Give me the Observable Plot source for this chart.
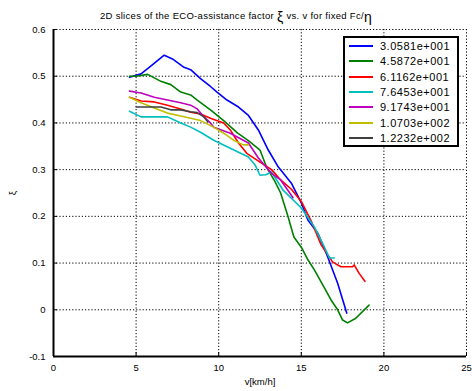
<!DOCTYPE html>
<html>
<head>
<meta charset="utf-8">
<script src="https://cdn.jsdelivr.net/npm/d3@7"></script>
<script src="https://cdn.jsdelivr.net/npm/@observablehq/plot@0.6"></script>
<style>
  html, body { margin: 0; padding: 0; background: #fff; }
  #wrap { position: relative; width: 472px; height: 391px; font-family: "Liberation Sans", Arial, sans-serif; }
  #title { position: absolute; left: 0; width: 472px; top: 6px; text-align: center; font-size: 9.5px; letter-spacing: 0.3px; white-space: nowrap; }
  #title .big { font-size: 14px; position: relative; top: 3px; }
  #legend { position: absolute; left: 343px; top: 36px; width: 112px; height: 107px; border: 2px solid #000; background: #fff; }
  .row { position: absolute; left: 0; height: 14px; font-size: 11px; letter-spacing: 0.5px; line-height: 14px; }
  .row .sw { position: absolute; left: 4px; top: 6px; width: 24px; height: 0; border-top: 2px solid; }
  .row .lb { position: absolute; left: 35px; top: 0; white-space: nowrap; }
</style>
</head>
<body>
<div id="wrap">
  <div id="chart"></div>
  <div id="title">2D slices of the ECO-assistance factor <span class="big">ξ</span> vs. v for fixed Fc/<span class="big">η</span></div>
  <div id="legend"></div>
</div>
<script>
// Series labels and colours
const seriesLabels = ["3.0581e+001", "4.5872e+001", "6.1162e+001", "7.6453e+001", "9.1743e+001", "1.0703e+002", "1.2232e+002"];
const seriesColors = ["#0000ff", "#008000", "#ff0000", "#00bfbf", "#bf00bf", "#bfbf00", "#404040"];

// Tick values
const xTicks = [0, 5, 10, 15, 20, 25];
const yTicks = [-0.1, 0, 0.1, 0.2, 0.3, 0.4, 0.5, 0.6];

// Series data (v in km/h, xi)
const v1 = [4.6, 5.3, 6.0, 6.7, 7.2, 7.9, 8.3, 8.9, 9.5, 9.9, 10.5, 11.2, 11.8, 12.4, 13.0, 13.6, 14.4, 15.0, 15.4, 16.0, 16.6, 17.2, 17.75];
const xi1 = [0.498, 0.505, 0.525, 0.545, 0.537, 0.519, 0.514, 0.495, 0.478, 0.466, 0.449, 0.434, 0.416, 0.385, 0.342, 0.306, 0.271, 0.229, 0.192, 0.164, 0.113, 0.057, -0.007];

const v2 = [4.6, 5.0, 5.7, 6.5, 7.1, 7.7, 8.3, 8.7, 9.5, 10.3, 11.15, 11.8, 12.5, 12.9, 13.4, 13.75, 14.2, 14.55, 15.0, 15.4, 15.8, 16.4, 16.8, 17.2, 17.5, 17.8, 18.3, 19.1];
const xi2 = [0.5, 0.5, 0.504, 0.489, 0.482, 0.466, 0.46, 0.449, 0.428, 0.405, 0.378, 0.362, 0.342, 0.305, 0.275, 0.25, 0.199, 0.156, 0.134, 0.107, 0.085, 0.047, 0.021, 0.0, -0.022, -0.028, -0.018, 0.01];

const v3 = [4.6, 5.3, 6.1, 6.9, 7.7, 8.3, 8.9, 9.5, 10.3, 10.7, 11.2, 11.7, 12.5, 13.2, 13.75, 14.4, 15.0, 15.6, 16.2, 16.9, 17.4, 18.1, 18.2, 18.5, 18.85];
const xi3 = [0.455, 0.447, 0.445, 0.438, 0.430, 0.423, 0.419, 0.41, 0.4, 0.385, 0.357, 0.335, 0.316, 0.3, 0.278, 0.258, 0.232, 0.19, 0.139, 0.102, 0.092, 0.092, 0.096, 0.078, 0.061];

const v4 = [4.6, 5.3, 6.5, 6.9, 7.7, 8.3, 8.9, 9.7, 10.7, 11.8, 12.2, 12.5, 12.85, 13.2, 13.9, 15.0, 15.8, 16.4, 16.7, 17.0];
const xi4 = [0.425, 0.413, 0.413, 0.413, 0.4, 0.391, 0.38, 0.363, 0.346, 0.327, 0.31, 0.288, 0.289, 0.295, 0.256, 0.218, 0.177, 0.134, 0.111, 0.111];

const v5 = [4.6, 5.3, 6.1, 6.9, 7.7, 8.3, 8.7, 9.1, 9.5, 9.7, 10.7, 11.8, 12.4, 13.2, 13.75, 14.5];
const xi5 = [0.468, 0.464, 0.455, 0.449, 0.443, 0.438, 0.43, 0.413, 0.4, 0.391, 0.378, 0.357, 0.325, 0.292, 0.278, 0.24];

const v6 = [4.6, 5.3, 6.1, 6.9, 7.7, 8.3, 8.9, 9.7, 10.3, 10.9, 11.5, 11.8];
const xi6 = [0.455, 0.443, 0.432, 0.421, 0.415, 0.41, 0.405, 0.391, 0.378, 0.363, 0.353, 0.353];

const v7 = [5.0, 6.5, 7.1, 7.7, 8.3, 8.7, 9.1, 9.35];
const xi7 = [0.434, 0.434, 0.428, 0.428, 0.424, 0.422, 0.413, 0.402];

const vs = [v1, v2, v3, v4, v5, v6, v7];
const xis = [xi1, xi2, xi3, xi4, xi5, xi6, xi7];
const data = [];
vs.forEach((vv, i) => vv.forEach((v, j) => data.push({series: seriesLabels[i], v, xi: xis[i][j]})));

const fmt = d => String(+d.toFixed(1));

const chart = Plot.plot({
  width: 472,
  height: 391,
  marginLeft: 53,
  marginRight: 6,
  marginTop: 29,
  marginBottom: 35,
  style: {fontFamily: "Liberation Sans, Arial, sans-serif", fontSize: "9.5px", background: "white", color: "black", overflow: "visible"},
  x: {domain: [0, 25]},
  y: {domain: [-0.1, 0.6]},
  color: {domain: seriesLabels, range: seriesColors},
  marks: [
    Plot.gridX(xTicks, {stroke: "black", strokeOpacity: 1, strokeDasharray: "1.2,2"}),
    Plot.gridY(yTicks, {stroke: "black", strokeOpacity: 1, strokeDasharray: "1.2,2"}),
    Plot.axisX(xTicks, {tickSize: -4, tickPadding: 12, tickFormat: fmt, label: "v[km/h]", labelAnchor: "center", labelOffset: 28, labelArrow: "none"}),
    Plot.axisY(yTicks, {tickSize: -4, tickPadding: 12, tickFormat: fmt, label: "ξ", labelAnchor: "center", labelOffset: 44, labelArrow: "none"}),
    Plot.line(data, {x: "v", y: "xi", z: "series", stroke: "series", strokeWidth: 1.6}),
    Plot.ruleX([0], {strokeWidth: 2}),
    Plot.ruleY([-0.1], {strokeWidth: 2})
  ]
});
document.getElementById("chart").appendChild(chart);

const legend = document.getElementById("legend");
seriesLabels.forEach((lab, i) => {
  const row = document.createElement("div");
  row.className = "row";
  row.style.top = (1 + i * 15.3) + "px";
  row.style.width = "110px";
  const sw = document.createElement("div");
  sw.className = "sw";
  sw.style.borderTopColor = seriesColors[i];
  const lb = document.createElement("div");
  lb.className = "lb";
  lb.textContent = lab;
  row.appendChild(sw);
  row.appendChild(lb);
  legend.appendChild(row);
});
</script>
</body>
</html>
